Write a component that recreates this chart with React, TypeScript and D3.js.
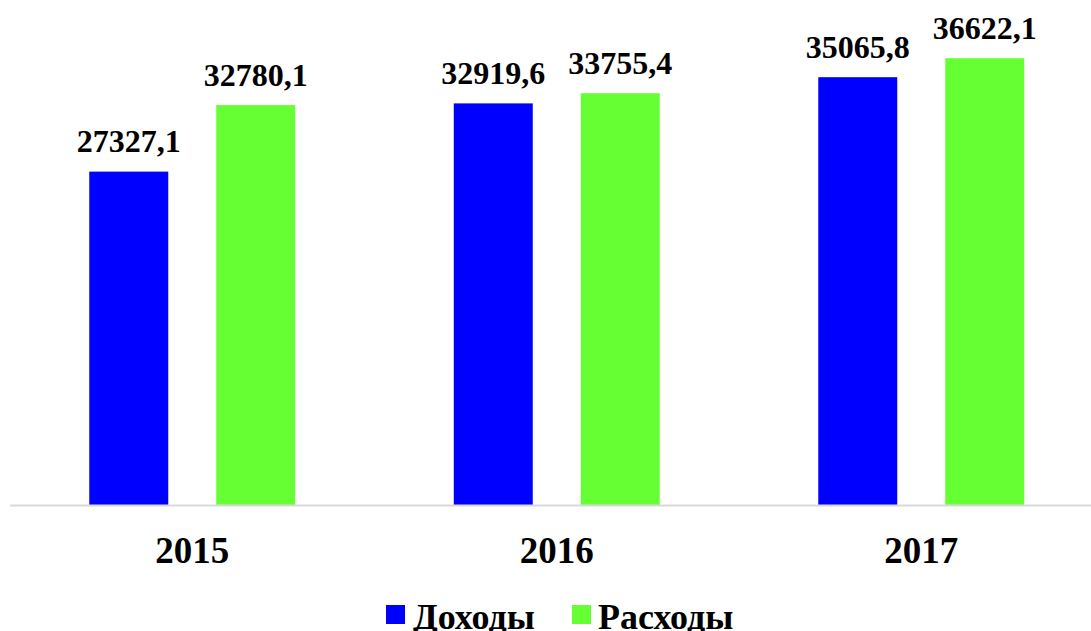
import React from 'react';
import * as d3 from 'd3';

const years = ['2015', '2016', '2017'];
const seriesNames = ['Доходы', 'Расходы'];
const incomes = [27327.1, 32919.6, 35065.8];
const expenses = [32780.1, 33755.4, 36622.1];
const colors = ['#0000ff', '#66ff33'];

const W = 1091;
const H = 631;
const FONT = '"Liberation Serif", "Times New Roman", serif';

const fmt = (v: number) => v.toFixed(1).replace('.', ',');

const App = () => {
    const baseY = 505;

    const x0 = d3.scaleBand<string>()
        .domain(years)
        .range([10, 1103.5])
        .paddingInner(0.435)
        .paddingOuter(0.2175);

    const x1 = d3.scaleBand<string>()
        .domain(seriesNames)
        .range([0, x0.bandwidth()])
        .paddingInner(0.378);

    const y = d3.scaleLinear()
        .domain([0, 40000])
        .range([baseY, 17]);

    const seriesValues = [incomes, expenses];

    return (
        <svg width={W} height={H} style={{ display: 'block', position: 'absolute', left: 0, top: 0 }}>
            <rect width={W} height={H} fill="#fff" />
            {years.map((yr, i) => (
                <g key={yr} transform={'translate(' + x0(yr) + ',0)'}>
                    {seriesNames.map((s, j) => {
                        const v = seriesValues[j][i];
                        const bx = x1(s) as number;
                        return (
                            <g key={s}>
                                <rect
                                    x={bx}
                                    y={y(v)}
                                    width={x1.bandwidth()}
                                    height={baseY - y(v)}
                                    fill={colors[j]} />
                                <text
                                    x={bx + x1.bandwidth() / 2}
                                    y={y(v) - 19.5}
                                    textAnchor="middle"
                                    fontFamily={FONT}
                                    fontWeight="bold"
                                    fontSize={32}
                                    fill="#000">
                                    {fmt(v)}
                                </text>
                            </g>
                        );
                    })}
                    <text
                        x={x0.bandwidth() / 2}
                        y={563}
                        textAnchor="middle"
                        fontFamily={FONT}
                        fontWeight="bold"
                        fontSize={37}
                        fill="#000">
                        {yr}
                    </text>
                </g>
            ))}
            <line x1={10} x2={W} y1={baseY + 0.5} y2={baseY + 0.5} stroke="#d9d9d9" strokeWidth={2} />
            <g>
                <rect x={386} y={605} width={19} height={19} fill={colors[0]} />
                <text x={413} y={629} fontFamily={FONT} fontWeight="bold" fontSize={36} fill="#000">
                    {seriesNames[0]}
                </text>
                <rect x={572} y={605} width={19} height={19} fill={colors[1]} />
                <text x={598} y={629} fontFamily={FONT} fontWeight="bold" fontSize={36} fill="#000">
                    {seriesNames[1]}
                </text>
            </g>
        </svg>
    );
};

export default App;
